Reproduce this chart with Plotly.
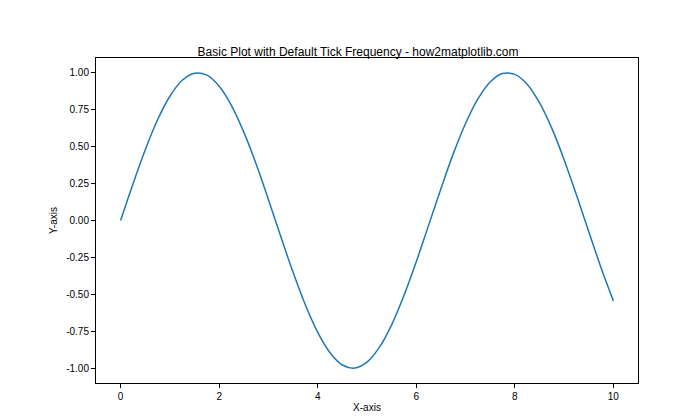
import plotly.graph_objects as go

x_vals = [i * 0.25 for i in range(41)]
y_vals = [0, .247, .479, .682, .841, .949, .997, .984, .909, .778, .598, .382, .141,
          -.108, -.351, -.572, -.757, -.895, -.978, -.999, -.959, -.859, -.706, -.508,
          -.279, -.033, .215, .451, .657, .823, .938, .995, .989, .923, .798, .625,
          .412, .174, -.075, -.319, -.544]
x_ticks = [0, 2, 4, 6, 8, 10]
y_ticks = [-1.0, -0.75, -0.5, -0.25, 0.0, 0.25, 0.5, 0.75, 1.0]

fig = go.Figure(go.Scatter(x=x_vals, y=y_vals, mode="lines",
                           line=dict(color="#1f77b4", width=1.5, shape="spline")))
axis = dict(showgrid=False, zeroline=False, showline=True, linecolor="black", linewidth=1,
            mirror=True, ticks="outside", ticklen=4, tickcolor="black", automargin=False)
fig.update_layout(
    width=700, height=420, plot_bgcolor="white", paper_bgcolor="white",
    margin=dict(l=88, r=70, t=50, b=45),
    font=dict(family="Liberation Sans", size=10, color="black"),
    title=dict(text="Basic Plot with Default Tick Frequency - how2matplotlib.com",
               x=0.5, xanchor="center", y=0.905, font=dict(size=12)),
    xaxis=dict(axis, range=[-0.5, 10.5], tickvals=x_ticks,
               title=dict(text="X-axis", standoff=2, font=dict(size=10))),
    yaxis=dict(axis, range=[-1.1, 1.1], tickvals=y_ticks,
               ticktext=[f"{v:.2f}" for v in y_ticks],
               title=dict(text="Y-axis", standoff=6, font=dict(size=10))),
    showlegend=False,
)
fig.write_html("out.html")
